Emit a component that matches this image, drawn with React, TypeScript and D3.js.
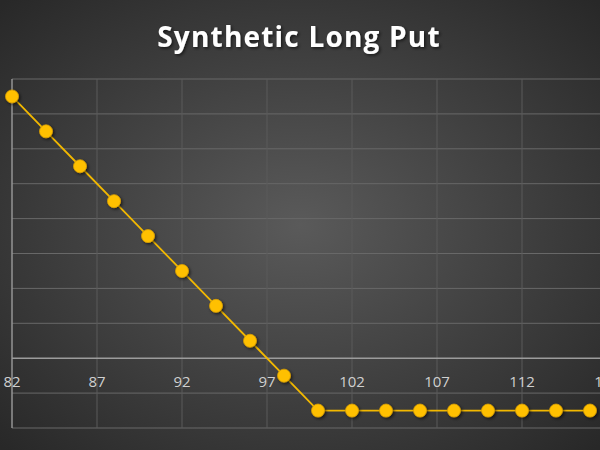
import React, { useEffect, useRef } from "react";
import * as d3 from "d3";

// underlying price at expiry
const prices = [82, 84, 86, 88, 90, 92, 94, 96, 98, 100, 102, 104, 106, 108, 110, 112, 114, 116];
// profit / loss of the position
const payoff = [15, 13, 11, 9, 7, 5, 3, 1, -1, -3, -3, -3, -3, -3, -3, -3, -3, -3];
const xTicks = [82, 87, 92, 97, 102, 107, 112, 117];
const yTicks = [-4, -2, 0, 2, 4, 6, 8, 10, 12, 14, 16];

const App: React.FC = () => {
  const svgRef = useRef<SVGSVGElement | null>(null);

  useEffect(() => {
    if (!svgRef.current) return;
    const svg = d3.select(svgRef.current);
    svg.selectAll("*").remove();

    const width = 600;
    const height = 450;

    const defs = svg.append("defs");
    const bg = defs
      .append("radialGradient")
      .attr("id", "bg")
      .attr("cx", "50%")
      .attr("cy", "50%")
      .attr("r", "70%");
    bg.append("stop").attr("offset", "0%").attr("stop-color", "#5a5a5a");
    bg.append("stop").attr("offset", "100%").attr("stop-color", "#282828");

    const shadow = defs.append("filter").attr("id", "shadow").attr("x", "-50%").attr("y", "-50%").attr("width", "200%").attr("height", "200%");
    shadow
      .append("feDropShadow")
      .attr("dx", 1.5)
      .attr("dy", 1.5)
      .attr("stdDeviation", 1.5)
      .attr("flood-color", "#000")
      .attr("flood-opacity", 0.6);

    svg.append("rect").attr("width", width).attr("height", height).attr("fill", "url(#bg)");

    const x = d3.scaleLinear().domain([82, 117]).range([12, 607]);
    const y = d3.scaleLinear().domain([-4, 16]).range([428, 79]);

    const g = svg.append("g");

    // horizontal grid
    g.selectAll("line.hgrid")
      .data(yTicks.filter((d) => d !== 0))
      .enter()
      .append("line")
      .attr("x1", x(82))
      .attr("x2", width)
      .attr("y1", (d) => y(d))
      .attr("y2", (d) => y(d))
      .attr("stroke", "#686868")
      .attr("stroke-width", 1);

    // vertical grid
    g.selectAll("line.vgrid")
      .data(xTicks.slice(1))
      .enter()
      .append("line")
      .attr("x1", (d) => x(d))
      .attr("x2", (d) => x(d))
      .attr("y1", y(16))
      .attr("y2", y(-4))
      .attr("stroke", "#5a5a5a")
      .attr("stroke-width", 1);

    // axes
    g.append("line")
      .attr("x1", x(82))
      .attr("x2", x(82))
      .attr("y1", y(16))
      .attr("y2", y(-4))
      .attr("stroke", "#959595")
      .attr("stroke-width", 1.5);
    g.append("line")
      .attr("x1", x(82))
      .attr("x2", width)
      .attr("y1", y(0))
      .attr("y2", y(0))
      .attr("stroke", "#9c9c9c")
      .attr("stroke-width", 1.5);

    g.selectAll("text.xlab")
      .data(xTicks)
      .enter()
      .append("text")
      .attr("x", (d) => x(d))
      .attr("y", y(0) + 29)
      .attr("text-anchor", "middle")
      .attr("font-family", "'Open Sans', sans-serif")
      .attr("font-size", 15)
      .attr("fill", "#d0d0d0")
      .text((d) => d);

    const pts = prices.map((p, i) => ({ p, v: payoff[i] }));
    const line = d3
      .line<{ p: number; v: number }>()
      .x((d) => x(d.p))
      .y((d) => y(d.v));

    g.append("path")
      .datum(pts)
      .attr("fill", "none")
      .attr("stroke", "#f2b800")
      .attr("stroke-width", 1.8)
      .attr("d", line);

    g.selectAll("circle")
      .data(pts)
      .enter()
      .append("circle")
      .attr("cx", (d) => x(d.p))
      .attr("cy", (d) => y(d.v))
      .attr("r", 6.5)
      .attr("fill", "#ffc000")
      .attr("stroke", "#d9a000")
      .attr("stroke-width", 0.8)
      .attr("filter", "url(#shadow)");

    svg
      .append("text")
      .attr("x", 299)
      .attr("y", 47)
      .attr("text-anchor", "middle")
      .attr("font-family", "'Open Sans', sans-serif")
      .attr("font-weight", 700)
      .attr("font-size", 28)
      .attr("letter-spacing", 1.2)
      .attr("fill", "#ffffff")
      .attr("filter", "url(#shadow)")
      .text("Synthetic Long Put");
  }, []);

  return (
    <svg
      ref={svgRef}
      width={600}
      height={450}
      style={{ position: "absolute", left: 0, top: 0, display: "block" }}
    ></svg>
  );
};

export default App;
